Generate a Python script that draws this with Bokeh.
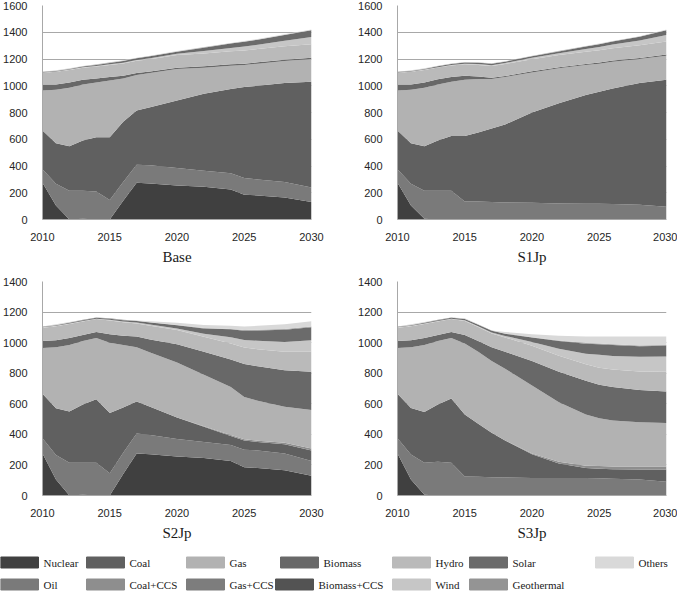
from bokeh.plotting import figure
from bokeh.models import ColumnDataSource, Range1d, FixedTicker
from bokeh.layouts import column, row
from bokeh.embed import file_html
from bokeh.resources import INLINE
from bokeh.core.properties import value

years = [2010, 2011, 2012, 2013, 2014, 2015, 2016, 2017, 2018, 2020, 2022, 2024, 2025, 2026, 2028, 2030]

series_names = ["Nuclear", "Oil", "Coal", "Coal+CCS", "Gas", "Gas+CCS", "Biomass",
                "Biomass+CCS", "Hydro", "Wind", "Solar", "Geothermal", "Others"]
series_colors = ["#404040", "#7a7a7a", "#606060", "#8e8e8e", "#b2b2b2", "#7d7d7d", "#686868",
                 "#535353", "#bababa", "#c6c6c6", "#6b6b6b", "#949494", "#d9d9d9"]

# ---- Base ----
base_nuclear = [275, 105, 0, 5, 0, 0, 140, 275, 270, 255, 245, 225, 185, 180, 165, 130]
base_oil = [100, 163, 215, 210, 210, 145, 140, 135, 135, 130, 120, 120, 125, 120, 115, 110]
base_coal = [290, 303, 333, 375, 405, 470, 450, 405, 435, 505, 575, 630, 680, 700, 740, 790]
base_coal_ccs = [0, 0, 0, 0, 0, 0, 0, 0, 0, 0, 0, 0, 0, 0, 0, 0]
base_gas = [300, 399, 437, 420, 410, 425, 325, 265, 255, 235, 195, 175, 165, 165, 165, 170]
base_gas_ccs = [0, 0, 0, 0, 0, 0, 0, 0, 0, 0, 0, 0, 0, 0, 0, 0]
base_biomass = [45, 40, 40, 35, 30, 25, 20, 15, 12, 10, 10, 10, 10, 10, 10, 10]
base_biomass_ccs = [0, 0, 0, 0, 0, 0, 0, 0, 0, 0, 0, 0, 0, 0, 0, 0]
base_hydro = [88, 94, 93, 90, 89, 90, 91, 91, 92, 95, 97, 98, 98, 99, 100, 100]
base_wind = [2, 3, 3, 3, 4, 5, 6, 6, 7, 10, 18, 25, 30, 32, 42, 55]
base_solar = [3, 4, 5, 6, 8, 11, 13, 13, 14, 15, 25, 32, 36, 38, 42, 50]
base_geothermal = [2, 2, 2, 2, 2, 2, 2, 2, 2, 2, 2, 2, 2, 2, 2, 2]
base_others = [0, 2, 2, 2, 2, 2, 3, 3, 3, 3, 3, 3, 4, 4, 4, 3]

# ---- S1Jp ----
s1_nuclear = [275, 105, 5, 0, 0, 0, 0, 0, 0, 0, 0, 0, 0, 0, 0, 0]
s1_oil = [100, 163, 210, 215, 215, 135, 135, 130, 128, 125, 120, 118, 118, 115, 110, 95]
s1_coal = [290, 303, 333, 375, 410, 490, 515, 550, 582, 675, 750, 812, 837, 865, 910, 950]
s1_coal_ccs = [0, 0, 0, 0, 0, 0, 0, 0, 0, 0, 0, 0, 0, 0, 0, 0]
s1_gas = [300, 399, 437, 420, 405, 420, 400, 370, 355, 300, 260, 225, 210, 200, 180, 180]
s1_gas_ccs = [0, 0, 0, 0, 0, 0, 0, 0, 0, 0, 0, 0, 0, 0, 0, 0]
s1_biomass = [45, 40, 40, 38, 35, 30, 20, 10, 8, 8, 8, 8, 8, 8, 8, 8]
s1_biomass_ccs = [0, 0, 0, 0, 0, 0, 0, 0, 0, 0, 0, 0, 0, 0, 0, 0]
s1_hydro = [88, 94, 93, 88, 86, 85, 86, 88, 90, 91, 91, 92, 92, 93, 95, 98]
s1_wind = [2, 3, 3, 3, 4, 5, 6, 6, 7, 10, 14, 20, 25, 27, 35, 48]
s1_solar = [3, 4, 5, 6, 8, 9, 10, 10, 10, 12, 14, 18, 20, 22, 28, 36]
s1_geothermal = [2, 2, 2, 2, 2, 2, 2, 2, 2, 2, 2, 2, 2, 2, 2, 2]
s1_others = [0, 2, 2, 2, 2, 2, 2, 2, 2, 2, 2, 2, 3, 3, 3, 3]

# ---- S2Jp ----
s2_nuclear = [275, 105, 0, 5, 0, 0, 140, 275, 270, 255, 245, 225, 185, 180, 165, 130]
s2_oil = [100, 160, 215, 210, 215, 145, 140, 130, 125, 115, 105, 105, 115, 115, 110, 95]
s2_coal = [290, 305, 335, 380, 415, 395, 295, 210, 185, 140, 100, 60, 60, 55, 60, 70]
s2_coal_ccs = [0, 0, 0, 0, 0, 0, 0, 0, 0, 0, 3, 5, 8, 8, 10, 12]
s2_gas = [300, 400, 435, 415, 400, 460, 410, 355, 355, 360, 337, 315, 277, 262, 235, 253]
s2_gas_ccs = [0, 0, 0, 0, 0, 0, 0, 0, 0, 0, 0, 0, 0, 0, 0, 0]
s2_biomass = [45, 45, 45, 40, 40, 55, 60, 70, 85, 120, 150, 180, 215, 225, 240, 250]
s2_biomass_ccs = [0, 0, 0, 0, 0, 0, 0, 0, 0, 0, 0, 0, 0, 0, 0, 0]
s2_hydro = [88, 92, 92, 88, 84, 90, 88, 86, 90, 92, 98, 105, 108, 112, 120, 130]
s2_wind = [2, 3, 3, 3, 3, 4, 5, 6, 8, 10, 20, 40, 50, 55, 65, 75]
s2_solar = [3, 4, 5, 6, 6, 8, 9, 10, 14, 22, 35, 52, 60, 68, 80, 85]
s2_geothermal = [2, 2, 2, 2, 2, 2, 2, 2, 2, 2, 3, 3, 4, 5, 5, 5]
s2_others = [0, 4, 3, 1, 0, 1, 1, 1, 6, 14, 19, 20, 23, 25, 30, 35]

# ---- S3Jp ----
s3_nuclear = [275, 105, 5, 0, 0, 0, 0, 0, 0, 0, 0, 0, 0, 0, 0, 0]
s3_oil = [100, 163, 210, 220, 215, 125, 122, 120, 118, 115, 115, 115, 113, 110, 105, 90]
s3_coal = [290, 305, 332, 375, 420, 405, 348, 290, 242, 155, 95, 65, 62, 62, 65, 80]
s3_coal_ccs = [0, 0, 0, 0, 0, 0, 0, 0, 0, 5, 10, 15, 18, 18, 20, 20]
s3_gas = [300, 397, 438, 415, 395, 465, 470, 470, 470, 445, 390, 335, 312, 300, 290, 285]
s3_gas_ccs = [0, 0, 0, 0, 0, 0, 0, 0, 0, 0, 0, 0, 0, 0, 0, 0]
s3_biomass = [45, 45, 45, 40, 40, 55, 70, 90, 110, 160, 200, 220, 220, 220, 210, 205]
s3_biomass_ccs = [0, 0, 0, 0, 0, 0, 0, 0, 0, 0, 0, 0, 0, 0, 0, 0]
s3_hydro = [88, 92, 92, 88, 84, 92, 92, 90, 94, 100, 105, 108, 110, 114, 122, 130]
s3_wind = [2, 3, 3, 3, 3, 5, 6, 7, 10, 25, 45, 70, 85, 88, 95, 100]
s3_solar = [3, 4, 5, 6, 6, 8, 9, 10, 14, 28, 50, 65, 70, 72, 70, 70]
s3_geothermal = [2, 2, 2, 2, 2, 2, 2, 2, 2, 3, 4, 5, 5, 5, 5, 5]
s3_others = [0, 4, 3, 1, 0, 3, 1, 1, 10, 19, 31, 42, 45, 51, 58, 55]

y_ticks_top = [0, 200, 400, 600, 800, 1000, 1200, 1400, 1600]
y_ticks_bottom = [0, 200, 400, 600, 800, 1000, 1200, 1400]
x_ticks = [2010, 2015, 2020, 2025, 2030]

panels = [
    ("Base", [base_nuclear, base_oil, base_coal, base_coal_ccs, base_gas, base_gas_ccs, base_biomass,
              base_biomass_ccs, base_hydro, base_wind, base_solar, base_geothermal, base_others], y_ticks_top),
    ("S1Jp", [s1_nuclear, s1_oil, s1_coal, s1_coal_ccs, s1_gas, s1_gas_ccs, s1_biomass,
              s1_biomass_ccs, s1_hydro, s1_wind, s1_solar, s1_geothermal, s1_others], y_ticks_top),
    ("S2Jp", [s2_nuclear, s2_oil, s2_coal, s2_coal_ccs, s2_gas, s2_gas_ccs, s2_biomass,
              s2_biomass_ccs, s2_hydro, s2_wind, s2_solar, s2_geothermal, s2_others], y_ticks_bottom),
    ("S3Jp", [s3_nuclear, s3_oil, s3_coal, s3_coal_ccs, s3_gas, s3_gas_ccs, s3_biomass,
              s3_biomass_ccs, s3_hydro, s3_wind, s3_solar, s3_geothermal, s3_others], y_ticks_bottom),
]

GRID = "#a8a8a8"
TXT = "#262626"


def make_panel(title, values, yticks, left, right, top):
    keys = ["s%d" % i for i in range(len(values))]
    data = {"year": years}
    for k, v in zip(keys, values):
        data[k] = v
    src = ColumnDataSource(data)
    p = figure(frame_width=269, frame_height=214,
               x_range=Range1d(2010, 2030), y_range=Range1d(0, yticks[-1]),
               min_border_left=left, min_border_right=right, min_border_top=top,
               min_border_bottom=44, output_backend="svg", toolbar_location=None)
    p.varea_stack(stackers=keys, x="year", color=series_colors, source=src)
    p.xaxis.ticker = FixedTicker(ticks=x_ticks)
    p.yaxis.ticker = FixedTicker(ticks=yticks)
    for ax in (p.xaxis[0], p.yaxis[0]):
        ax.major_tick_line_color = None
        ax.minor_tick_line_color = None
        ax.axis_line_color = GRID
        ax.major_label_text_font = "Liberation Sans"
        ax.major_label_text_font_size = "11px"
        ax.major_label_text_color = TXT
    p.xaxis.major_label_standoff = 7
    p.yaxis.major_label_standoff = 9
    p.xaxis.axis_label = title
    p.xaxis.axis_label_text_font = "Liberation Serif"
    p.xaxis.axis_label_text_font_size = "15px"
    p.xaxis.axis_label_text_font_style = "normal"
    p.xaxis.axis_label_text_color = "#1a1a1a"
    p.xaxis.axis_label_standoff = 5
    p.xgrid.grid_line_color = None
    p.ygrid.grid_line_color = GRID
    p.outline_line_color = None
    return p


p1 = make_panel(*panels[0], left=37, right=15, top=5)
p2 = make_panel(*panels[1], left=71, right=11, top=5)
p3 = make_panel(*panels[2], left=37, right=15, top=14)
p4 = make_panel(*panels[3], left=71, right=11, top=14)

# ---- legend (two rows, manual) ----
legend_row1 = ["Nuclear", "Coal", "Gas", "Biomass", "Hydro", "Solar", "Others"]
legend_row1_x = [8, 94, 194, 288, 400, 477, 603]
legend_row2 = ["Oil", "Coal+CCS", "Gas+CCS", "Biomass+CCS", "Wind", "Geothermal"]
legend_row2_x = [8, 94, 194, 283, 400, 477]
SW_W, SW_H, GAP = 38, 11, 5
ROW_Y = [19, 41]

leg = figure(width=672, height=50, x_range=Range1d(8, 680), y_range=Range1d(50, 0),
             x_axis_location=None, y_axis_location=None, min_border=0,
             output_backend="svg", toolbar_location=None)
leg.grid.visible = False
leg.outline_line_color = None
color_of = dict(zip(series_names, series_colors))
for names, xs, yrow in ((legend_row1, legend_row1_x, ROW_Y[0]), (legend_row2, legend_row2_x, ROW_Y[1])):
    leg.rect(x=[x + SW_W / 2 for x in xs], y=[yrow] * len(xs), width=SW_W, height=SW_H,
             color=[color_of[n] for n in names])
    leg.text(x=[x + SW_W + GAP for x in xs], y=[yrow] * len(xs), text=names,
             text_font=value("Liberation Serif"), text_font_size="11px",
             text_baseline="middle", text_align="left", text_color="#1a1a1a")

layout = column(row(p1, p2), row(p3, p4), leg)
open("out.html", "w").write(file_html(layout, INLINE))
